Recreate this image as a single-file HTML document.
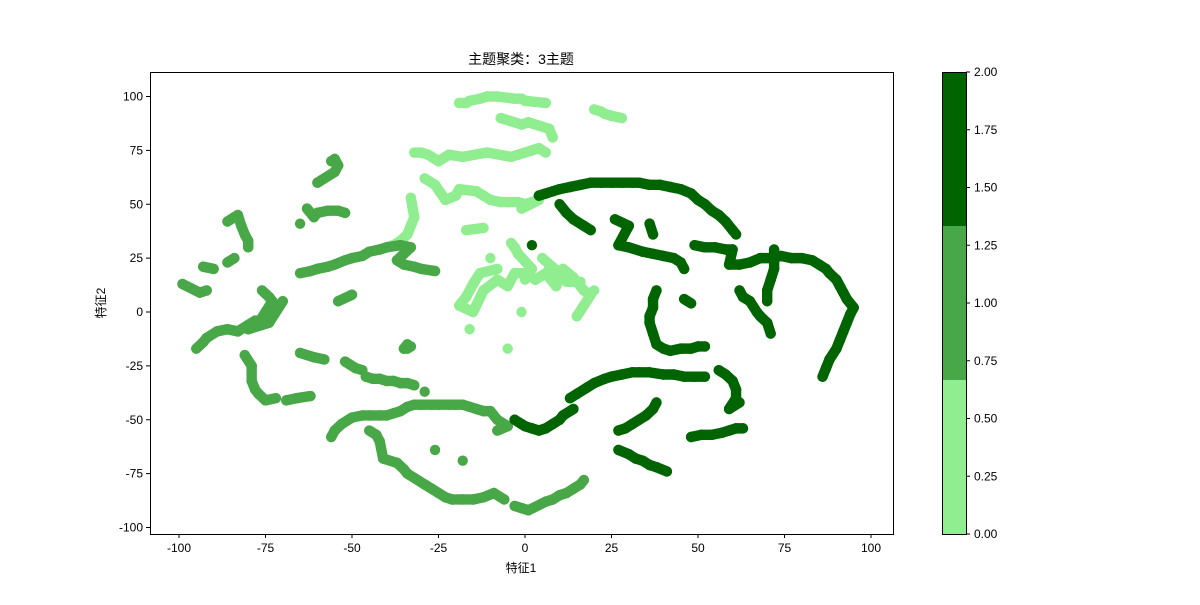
<!DOCTYPE html>
<html><head><meta charset="utf-8"><style>
body{margin:0;background:#fff;}
svg text{font-family:"Liberation Sans","Noto Sans CJK SC",sans-serif;font-size:12px;fill:#000;}
</style></head><body>
<svg id="chart" width="1200" height="600">
<rect width="1200" height="600" fill="#fff"/>
<text x="521" y="64" text-anchor="middle" style="font-size:14px">主题聚类：3主题</text>
<g id="points"></g>
<rect x="150.5" y="72.5" width="743" height="462" fill="none" stroke="#000" stroke-width="1"/>
<g id="xaxis"></g>
<g id="yaxis"></g>
<text x="521" y="572" text-anchor="middle">特征1</text>
<text transform="translate(105,303) rotate(-90)" text-anchor="middle">特征2</text>
<g id="colorbar"></g>
</svg>
<script>
const xTicks=[-100,-75,-50,-25,0,25,50,75,100];
const yTicks=[-100,-75,-50,-25,0,25,50,75,100];
const cbTicks=["0.00","0.25","0.50","0.75","1.00","1.25","1.50","1.75","2.00"];
const clusterColors=["#90ee90","#48a848","#006400"];
const cluster0=[[-19,97],[-17,97],[-16,98],[-13,99],[-11,100],[-8,100],[-3,99],[-1,99],[0,98],[6,97],[20,94],[22,93],[23,92],[25,91],[28,90],[-7,90],[-1,87],[1,88],[7,85],[8,81],[-32,74],[-30,74],[-28,73],[-25,70],[-22,73],[-18,72],[-11,74],[-4,72],[-2,73],[0,74],[2,75],[4,76],[6,74],[-29,62],[-26,59],[-23,52],[-20,54],[-19,57],[-14,56],[-12,54],[-10,52],[-7,51],[-5,51],[-2,51],[0,50],[2,51],[4,52],[-1,48],[-33,53],[-32,44],[-33,40],[-34,36],[-36,33],[-38,31],[-40,30],[-17,38],[-12,39],[-4,32],[-3,30],[-2,27],[2,20],[-8,20],[-13,18],[-15,13],[-17,7],[-19,3],[-15,0],[-12,10],[-8,15],[-5,12],[-3,18],[0,18],[3,15],[6,18],[9,12],[11,20],[14,16],[17,10],[19,8],[15,-2],[20,10],[-1,0],[-16,-8],[-5,-17],[0,15],[5,25],[10,18],[7,20],[-10,25],[12,14],[16,14]];
const cluster1=[[-56,70],[-55,71],[-54,68],[-55,65],[-60,60],[-63,48],[-61,44],[-60,46],[-57,47],[-54,47],[-52,46],[-86,42],[-84,44],[-83,45],[-82,40],[-81,36],[-80,33],[-80,30],[-90,20],[-93,21],[-84,25],[-86,23],[-99,13],[-94,9],[-92,10],[-65,18],[-62,19],[-60,20],[-57,21],[-55,22],[-52,24],[-50,25],[-47,26],[-45,28],[-42,29],[-40,30],[-36,31],[-33,30],[-37,24],[-35,22],[-32,21],[-30,20],[-26,19],[-95,-17],[-93,-14],[-92,-12],[-89,-9],[-86,-8],[-83,-9],[-80,-6],[-78,-4],[-76,10],[-74,7],[-73,5],[-75,0],[-77,-5],[-80,-8],[-74,-5],[-70,5],[-81,-20],[-79,-25],[-79,-32],[-78,-36],[-77,-38],[-75,-41],[-72,-40],[-65,-19],[-61,-21],[-58,-22],[-69,-41],[-66,-40],[-62,-39],[-52,-23],[-49,-26],[-47,-27],[-54,5],[-50,8],[-34,-17],[-33,-16],[-35,-17],[-34,-15],[-46,-30],[-44,-31],[-42,-31],[-40,-32],[-38,-32],[-36,-33],[-34,-33],[-32,-34],[-56,-58],[-55,-55],[-53,-52],[-50,-49],[-47,-48],[-45,-48],[-42,-48],[-40,-48],[-38,-47],[-36,-46],[-34,-44],[-32,-43],[-30,-43],[-27,-43],[-25,-43],[-22,-43],[-20,-43],[-18,-43],[-16,-44],[-14,-45],[-12,-46],[-10,-46],[-8,-50],[-5,-53],[-8,-55],[-29,-37],[-45,-55],[-43,-57],[-42,-60],[-41,-68],[-37,-70],[-35,-73],[-34,-75],[-29,-80],[-27,-82],[-25,-84],[-23,-86],[-21,-87],[-18,-87],[-15,-87],[-12,-86],[-9,-84],[-6,-87],[-26,-64],[-18,-69],[-3,-90],[-1,-91],[1,-92],[6,-88],[8,-87],[10,-85],[12,-84],[14,-82],[16,-80],[17,-78],[-65,41]];
const cluster2=[[4,54],[6,55],[8,56],[10,57],[13,58],[16,59],[19,60],[22,60],[25,60],[28,60],[31,60],[33,60],[36,59],[39,59],[42,58],[45,57],[48,55],[50,52],[52,50],[54,47],[56,45],[58,42],[60,38],[61,36],[10,50],[12,46],[14,43],[17,40],[19,38],[26,43],[30,40],[27,31],[30,30],[34,28],[37,27],[40,26],[43,25],[45,23],[46,20],[36,41],[37,36],[49,31],[52,30],[55,30],[58,29],[60,29],[59,22],[62,22],[65,23],[68,25],[71,25],[74,26],[77,25],[80,25],[83,24],[85,22],[87,20],[88,18],[90,15],[91,12],[92,9],[93,6],[95,2],[94,-1],[93,-5],[92,-9],[91,-13],[90,-17],[88,-22],[87,-26],[86,-30],[72,29],[72,24],[72,20],[71,15],[70,10],[70,5],[62,10],[63,7],[65,5],[67,0],[68,-2],[70,-5],[71,-10],[38,10],[37,6],[37,2],[36,-2],[36,-5],[37,-10],[38,-15],[40,-17],[42,-18],[45,-17],[48,-17],[50,-16],[52,-16],[46,6],[48,4],[13,-40],[15,-38],[18,-35],[20,-33],[23,-31],[25,-30],[28,-29],[31,-28],[33,-28],[36,-28],[40,-29],[43,-29],[46,-30],[49,-30],[52,-30],[-3,-50],[-1,-52],[0,-53],[2,-54],[4,-55],[6,-54],[8,-52],[10,-50],[11,-48],[14,-45],[27,-55],[29,-54],[31,-52],[33,-50],[35,-48],[37,-45],[38,-42],[27,-64],[30,-66],[32,-68],[34,-69],[36,-71],[38,-72],[41,-74],[48,-58],[51,-57],[54,-57],[57,-56],[59,-55],[61,-54],[63,-54],[56,-27],[58,-29],[60,-32],[61,-36],[61,-40],[59,-45],[62,-42],[2,31]];
const allClusters=[cluster0,cluster1,cluster2];
const NS="http://www.w3.org/2000/svg";
const X0=150,X1=893,Y0=72,Y1=534;
function xs(v){return 525+v*3.46;}
function ys(v){return 312-v*2.155;}
function mk(tag,attrs,parent){const e=document.createElementNS(NS,tag);for(const k in attrs)e.setAttribute(k,attrs[k]);parent.appendChild(e);return e;}
const pg=document.getElementById('points');
allClusters.forEach((pts,ci)=>{
 pts.forEach((p,i)=>{
  if(i>0){const q=pts[i-1];const dx=xs(p[0])-xs(q[0]),dy=ys(p[1])-ys(q[1]);
   if(Math.hypot(dx,dy)<26){
    const l=mk('line',{x1:xs(q[0]),y1:ys(q[1]),x2:xs(p[0]),y2:ys(p[1]),stroke:clusterColors[ci],'stroke-width':10.4,'stroke-linecap':'round'},pg);
    
    
   }}
  const c=mk('circle',{cx:xs(p[0]),cy:ys(p[1]),r:5.2,fill:clusterColors[ci]},pg);
  
  
 });
});
const xg=document.getElementById('xaxis');
xTicks.forEach(t=>{const x=xs(t);
 mk('line',{x1:x,x2:x,y1:Y1,y2:Y1+4,stroke:'#000'},xg);
 const tx=mk('text',{x:x,y:Y1+18,'text-anchor':'middle'},xg);tx.textContent=t;
 
 
});
const yg=document.getElementById('yaxis');
yTicks.forEach(t=>{const y=ys(t);
 mk('line',{x1:X0-4,x2:X0,y1:y,y2:y,stroke:'#000'},yg);
 const tx=mk('text',{x:X0-7,y:y+4,'text-anchor':'end'},yg);tx.textContent=t;
 
 
});
const cb=document.getElementById('colorbar');
const CX=942,CW=24,CT=72,CB=534;
function cy(v){return CB-(v/2)*(CB-CT);}
[[0,2/3],[2/3,4/3],[4/3,2]].forEach((r,i)=>{
 const rc=mk('rect',{x:CX,y:cy(r[1]),width:CW,height:cy(r[0])-cy(r[1]),fill:clusterColors[i]},cb);
 
 
});
mk('rect',{x:CX+0.5,y:CT+0.5,width:CW,height:CB-CT,fill:'none',stroke:'#000'},cb);
cbTicks.forEach(t=>{const y=cy(parseFloat(t));
 mk('line',{x1:CX+CW,x2:CX+CW+4,y1:y,y2:y,stroke:'#000'},cb);
 const tx=mk('text',{x:CX+CW+8,y:y+4},cb);tx.textContent=t;
 
 
});
</script>
</body></html>
